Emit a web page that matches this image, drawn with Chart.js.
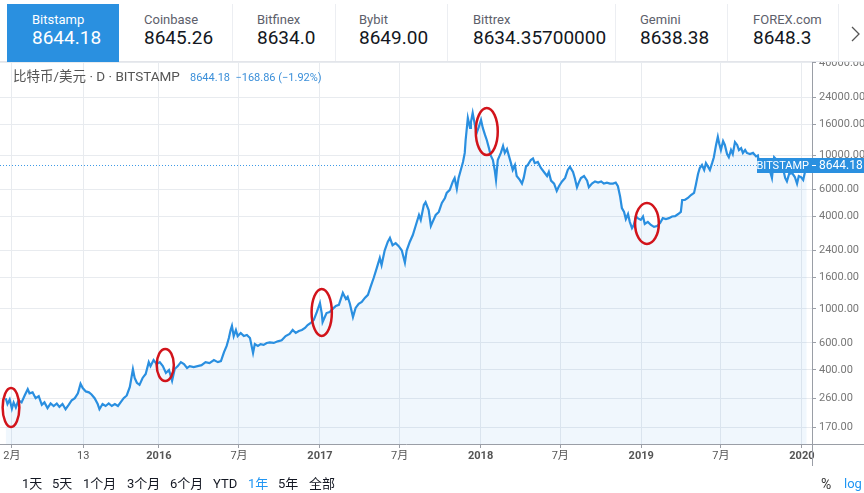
<!DOCTYPE html>
<html lang="zh-CN">
<head>
<meta charset="utf-8">
<title>比特币/美元 · D · BITSTAMP</title>
<script src="https://cdn.jsdelivr.net/npm/chart.js@4.4.1/dist/chart.umd.min.js"></script>
<style>
  html, body { margin: 0; padding: 0; background: #fff; }
  body { width: 864px; height: 493px; position: relative; overflow: hidden;
         font-family: Roboto, "Noto Sans CJK SC", sans-serif; color: #131722; }
  #chart { position: absolute; left: 0; top: 0; }
  .tabs { position: absolute; left: 0; top: 0; width: 864px; height: 61px; background: #fff;
          border-bottom: 1px solid #e3e5ea; z-index: 2; }
  .active { position: absolute; left: 7px; top: 4px; width: 112px; height: 58px; background: #2a90e0; }
  .sep { position: absolute; top: 4px; width: 1px; height: 57px; background: #eceef2; }
  .name, .val { position: absolute; line-height: 1; white-space: nowrap; }
  .name { top: 13px; font-size: 13px; color: #5d606b; }
  .val { top: 28px; font-size: 19px; color: #131722; }
  .on { color: #fff; }
  .title { position: absolute; left: 13px; top: 70px; font-size: 13.5px; line-height: 1; color: #555; z-index: 2; white-space: nowrap; }
  .quote { position: absolute; left: 190px; top: 72px; font-size: 11px; line-height: 1; color: #3b8fd9; z-index: 2; white-space: nowrap; }
  .range { position: absolute; top: 477px; font-size: 13px; line-height: 1; color: #131722; white-space: nowrap; }
  .blue { color: #2196f3; }
</style>
</head>
<body>
<canvas id="chart" width="864" height="493"></canvas>

<div class="tabs">
  <div class="active"></div>
  <span class="name on" style="left:32px">Bitstamp</span><span class="val on" style="left:32px">8644.18</span>
  <span class="name" style="left:144px">Coinbase</span><span class="val" style="left:144px">8645.26</span>
  <div class="sep" style="left:232px"></div>
  <span class="name" style="left:257px">Bitfinex</span><span class="val" style="left:257px">8634.0</span>
  <div class="sep" style="left:335px"></div>
  <span class="name" style="left:359px">Bybit</span><span class="val" style="left:359px">8649.00</span>
  <div class="sep" style="left:447px"></div>
  <span class="name" style="left:473px">Bittrex</span><span class="val" style="left:473px">8634.35700000</span>
  <div class="sep" style="left:615px"></div>
  <span class="name" style="left:640px">Gemini</span><span class="val" style="left:640px">8638.38</span>
  <div class="sep" style="left:727px"></div>
  <span class="name" style="left:753px">FOREX.com</span><span class="val" style="left:753px">8648.3</span>
  <div class="sep" style="left:838px"></div>
  <svg style="position:absolute;left:848px;top:24px" width="14" height="20">
    <polyline points="4,3 11,10 4,17" fill="none" stroke="#555" stroke-width="1.3"/>
  </svg>
</div>

<div class="title">比特币/美元 · D · BITSTAMP</div>
<div class="quote">8644.18&nbsp; −168.86 (−1.92%)</div>

<span class="range" style="left:22px">1天</span>
<span class="range" style="left:52px">5天</span>
<span class="range" style="left:83px">1个月</span>
<span class="range" style="left:127px">3个月</span>
<span class="range" style="left:170px">6个月</span>
<span class="range" style="left:213px">YTD</span>
<span class="range blue" style="left:248px">1年</span>
<span class="range" style="left:278px">5年</span>
<span class="range" style="left:309px">全部</span>
<span class="range" style="left:821px;font-size:14px;color:#333">%</span>
<span class="range blue" style="left:844px">log</span>

<script>
// daily BTC/USD closes on Bitstamp
const dates = [
    '2015-01-18', '2015-01-22', '2015-01-27', '2015-02-01', '2015-02-05', '2015-02-10', '2015-02-16', '2015-02-23',
    '2015-03-02', '2015-03-09', '2015-03-13', '2015-03-20', '2015-03-27', '2015-04-03', '2015-04-10', '2015-04-16',
    '2015-04-23', '2015-04-30', '2015-05-07', '2015-05-14', '2015-05-20', '2015-05-27', '2015-06-03', '2015-06-10',
    '2015-06-17', '2015-06-24', '2015-07-01', '2015-07-07', '2015-07-12', '2015-07-19', '2015-07-26', '2015-08-01',
    '2015-08-08', '2015-08-15', '2015-08-19', '2015-08-26', '2015-09-02', '2015-09-09', '2015-09-16', '2015-09-23',
    '2015-09-30', '2015-10-06', '2015-10-13', '2015-10-20', '2015-10-27', '2015-11-03', '2015-11-07', '2015-11-12',
    '2015-11-18', '2015-11-25', '2015-12-02', '2015-12-09', '2015-12-13', '2015-12-20', '2015-12-27',
    '2016-01-03', '2016-01-10', '2016-01-17', '2016-01-24', '2016-01-31', '2016-02-06', '2016-02-13', '2016-02-20',
    '2016-02-27', '2016-03-05', '2016-03-11', '2016-03-20', '2016-03-29', '2016-04-07', '2016-04-16', '2016-04-25',
    '2016-05-05', '2016-05-14', '2016-05-21', '2016-05-28', '2016-06-03', '2016-06-08', '2016-06-12', '2016-06-15',
    '2016-06-19', '2016-06-24', '2016-06-28', '2016-07-05', '2016-07-12', '2016-07-19', '2016-07-26', '2016-08-02',
    '2016-08-06', '2016-08-13', '2016-08-19', '2016-08-26', '2016-09-02', '2016-09-09', '2016-09-18', '2016-09-27',
    '2016-10-06', '2016-10-15', '2016-10-24', '2016-10-31', '2016-11-07', '2016-11-14', '2016-11-21', '2016-11-28',
    '2016-12-04', '2016-12-11', '2016-12-18', '2016-12-25',
    '2017-01-01', '2017-01-05', '2017-01-07', '2017-01-12', '2017-01-16', '2017-01-23', '2017-01-30', '2017-02-06',
    '2017-02-13', '2017-02-22', '2017-03-01', '2017-03-05', '2017-03-10', '2017-03-17', '2017-03-23', '2017-03-30',
    '2017-04-06', '2017-04-13', '2017-04-20', '2017-04-26', '2017-05-03', '2017-05-10', '2017-05-17', '2017-05-21',
    '2017-05-28', '2017-06-04', '2017-06-09', '2017-06-15', '2017-06-22', '2017-06-29', '2017-07-06', '2017-07-13',
    '2017-07-17', '2017-07-24', '2017-07-31', '2017-08-07', '2017-08-14', '2017-08-18', '2017-08-25', '2017-08-29',
    '2017-09-05', '2017-09-10', '2017-09-14', '2017-09-21', '2017-09-28', '2017-10-05', '2017-10-12', '2017-10-16',
    '2017-10-23', '2017-10-30', '2017-11-03', '2017-11-08', '2017-11-12', '2017-11-17', '2017-11-22', '2017-11-26',
    '2017-11-28', '2017-12-03', '2017-12-08', '2017-12-10', '2017-12-14', '2017-12-19', '2017-12-23', '2017-12-28',
    '2018-01-02', '2018-01-06', '2018-01-11', '2018-01-15', '2018-01-20', '2018-01-24', '2018-01-29', '2018-02-02',
    '2018-02-05', '2018-02-09', '2018-02-16', '2018-02-21', '2018-02-25', '2018-03-02', '2018-03-06', '2018-03-11',
    '2018-03-15', '2018-03-20', '2018-03-24', '2018-03-31', '2018-04-05', '2018-04-09', '2018-04-14', '2018-04-18',
    '2018-04-25', '2018-04-30', '2018-05-04', '2018-05-11', '2018-05-18', '2018-05-25', '2018-06-01', '2018-06-05',
    '2018-06-10', '2018-06-17', '2018-06-23', '2018-06-28', '2018-07-05', '2018-07-12', '2018-07-18', '2018-07-23',
    '2018-07-30', '2018-08-03', '2018-08-08', '2018-08-12', '2018-08-17', '2018-08-24', '2018-08-31', '2018-09-04',
    '2018-09-11', '2018-09-18', '2018-09-25', '2018-10-02', '2018-10-08', '2018-10-15', '2018-10-22', '2018-10-29',
    '2018-11-04', '2018-11-09', '2018-11-14', '2018-11-18', '2018-11-23', '2018-11-27', '2018-12-02', '2018-12-06',
    '2018-12-11', '2018-12-15', '2018-12-20', '2018-12-24', '2018-12-31',
    '2019-01-05', '2019-01-09', '2019-01-16', '2019-01-23', '2019-01-30', '2019-02-06', '2019-02-13', '2019-02-19',
    '2019-02-26', '2019-03-05', '2019-03-12', '2019-03-19', '2019-03-26', '2019-04-01', '2019-04-04', '2019-04-10',
    '2019-04-17', '2019-04-24', '2019-05-01', '2019-05-05', '2019-05-10', '2019-05-14', '2019-05-19', '2019-05-24',
    '2019-05-28', '2019-06-02', '2019-06-06', '2019-06-11', '2019-06-15', '2019-06-20', '2019-06-24', '2019-06-27',
    '2019-07-01', '2019-07-06', '2019-07-10', '2019-07-15', '2019-07-19', '2019-07-24', '2019-07-28', '2019-08-02',
    '2019-08-07', '2019-08-11', '2019-08-16', '2019-08-20', '2019-08-25', '2019-08-29', '2019-09-05', '2019-09-12',
    '2019-09-19', '2019-09-23', '2019-09-28', '2019-10-05', '2019-10-12', '2019-10-18', '2019-10-25', '2019-10-30',
    '2019-11-05', '2019-11-12', '2019-11-19', '2019-11-24', '2019-11-28', '2019-12-03', '2019-12-10', '2019-12-16',
    '2019-12-21', '2019-12-25', '2019-12-30', '2020-01-04', '2020-01-08', '2020-01-12'
];
const closes = [
    262, 240, 257, 224, 246, 228, 254, 246,
    273, 300, 282, 286, 262, 270, 237, 246,
    226, 242, 233, 242, 230, 240, 222, 237,
    254, 262, 282, 325, 305, 290, 286, 277,
    262, 240, 222, 240, 233, 242, 233, 240,
    233, 246, 262, 273, 310, 405, 355, 330,
    320, 355, 377, 450, 424, 464, 437,
    450, 424, 383, 400, 340, 406, 424, 450,
    437, 412, 424, 418, 424, 430, 450, 443,
    464, 450, 457, 523, 574, 646, 729, 775,
    665, 729, 665, 697, 665, 676, 646, 516,
    590, 574, 590, 583, 600, 605, 600, 615,
    624, 665, 687, 729, 697, 718, 729, 752,
    785, 810, 847, 955,
    1092, 940, 820, 885, 940, 955, 1000, 1045,
    1062, 1270, 1160, 1200, 1080, 885, 1015, 1080,
    1110, 1180, 1235, 1390, 1590, 1845, 2148, 1930,
    2400, 2730, 2900, 2600, 2680, 2560, 2400, 2000,
    2400, 2730, 3030, 3520, 4090, 3800, 4750, 4950,
    4400, 3470, 3690, 4090, 4280, 4900, 5280, 5700,
    5960, 6770, 7130, 6060, 7130, 8040, 9060, 10380,
    12600, 17540, 15100, 16500, 18900, 15800, 14000, 15330,
    17000, 15100, 13600, 12600, 11150, 10000, 9330, 8040,
    6920, 9330, 10380, 11500, 10380, 11000, 10000, 8900,
    8040, 8660, 7340, 6920, 6550, 7130, 8420, 8660,
    9330, 9560, 8900, 9060, 8280, 7800, 7340, 7800,
    6850, 6550, 5870, 6300, 6770, 7130, 8040, 8420,
    7800, 7130, 6200, 6650, 7130, 7340, 6850, 6200,
    6550, 6770, 6650, 6770, 6550, 6650, 6550, 6550,
    6650, 6300, 5400, 4540, 4280, 3850, 4150, 3690,
    3360, 3520, 4020, 3900, 3800,
    4000, 3580, 3690, 3520, 3420, 3470, 3630, 3900,
    3850, 3900, 4000, 4020, 4150, 4280, 5120, 5120,
    5280, 5520, 5700, 6420, 7570, 8280, 8660, 8040,
    8900, 8420, 8040, 8900, 9720, 11700, 13200, 12000,
    10840, 12400, 11700, 10200, 9720, 10840, 10200, 12200,
    11700, 10840, 11150, 10380, 10840, 10380, 10200, 10380,
    9850, 10000, 8040, 8280, 7900, 8420, 7130, 9720,
    9330, 8900, 8280, 7130, 6770, 7570, 7670, 7230,
    6550, 7340, 7230, 6920, 7800, 8644.18
];
const lastPrice = 8644.18;

const xTickDates = ['2015-02-01', '2015-07-13', '2016-01-01', '2016-07-01', '2017-01-01', '2017-07-01',
    '2018-01-01', '2018-07-01', '2019-01-01', '2019-07-01', '2020-01-01'];
const xTickLabels = ['2月', '13', '2016', '7月', '2017', '7月', '2018', '7月', '2019', '7月', '2020'];
const yTickValues = [170, 260, 400, 600, 1000, 1600, 2400, 4000, 6000, 10000, 16000, 24000, 40000];

// red rings drawn on the chart: date span and price span of each
const ringFrom = ['2015-01-11', '2015-12-27', '2016-12-13', '2017-12-21', '2018-12-18'];
const ringTo = ['2015-02-18', '2016-02-04', '2017-01-28', '2018-02-09', '2019-02-10'];
const ringHigh = [305, 548, 1349, 20370, 4900];
const ringLow = [170, 339, 666, 10060, 2650];

const FONT = 'Roboto, "Noto Sans CJK SC", sans-serif';
const toTime = d => Date.parse(d + 'T00:00:00Z');

const overlays = {
    id: 'overlays',
    beforeDatasetsDraw(chart) {
        const { ctx, chartArea, scales: { y } } = chart;
        const py = Math.round(y.getPixelForValue(lastPrice)) + 0.5;
        ctx.save();
        ctx.strokeStyle = '#3d9ae6';
        ctx.lineWidth = 1;
        ctx.setLineDash([1, 2]);
        ctx.beginPath();
        ctx.moveTo(chartArea.left, py);
        ctx.lineTo(chartArea.right, py);
        ctx.stroke();
        ctx.restore();
    },
    afterDraw(chart) {
        const { ctx, chartArea, scales: { x, y } } = chart;
        ctx.save();
        // axis lines run on past the plot
        ctx.strokeStyle = '#9a9ea6';
        ctx.lineWidth = 1;
        ctx.beginPath();
        ctx.moveTo(chartArea.right + 0.5, chartArea.bottom);
        ctx.lineTo(chartArea.right + 0.5, x.bottom);
        ctx.moveTo(chartArea.right, chartArea.bottom + 0.5);
        ctx.lineTo(chart.width, chartArea.bottom + 0.5);
        ctx.stroke();

        ctx.strokeStyle = '#d2141b';
        ctx.lineWidth = 2.5;
        ringFrom.forEach((d, i) => {
            const x1 = x.getPixelForValue(toTime(d));
            const x2 = x.getPixelForValue(toTime(ringTo[i]));
            const y1 = y.getPixelForValue(ringHigh[i]);
            const y2 = y.getPixelForValue(ringLow[i]);
            ctx.beginPath();
            ctx.ellipse((x1 + x2) / 2, (y1 + y2) / 2, (x2 - x1) / 2, (y2 - y1) / 2, 0, 0, Math.PI * 2);
            ctx.stroke();
        });

        // last price tag
        const py = Math.round(y.getPixelForValue(lastPrice));
        ctx.fillStyle = '#2a90e0';
        ctx.fillRect(chartArea.right - 55, py - 7, chart.width - chartArea.right + 55, 15);
        ctx.strokeStyle = '#fff';
        ctx.lineWidth = 1;
        ctx.beginPath();
        ctx.moveTo(chartArea.right, py + 0.5);
        ctx.lineTo(chartArea.right + 4, py + 0.5);
        ctx.stroke();
        ctx.fillStyle = '#fff';
        ctx.textBaseline = 'middle';
        ctx.font = '11px ' + FONT;
        ctx.textAlign = 'right';
        ctx.fillText('BITSTAMP', chartArea.right - 3, py + 1);
        ctx.textAlign = 'left';
        ctx.font = '12px ' + FONT;
        ctx.fillText(lastPrice.toFixed(2), chartArea.right + 7, py + 1);
        ctx.restore();
    }
};

const points = dates.map((d, i) => ({ x: toTime(d), y: closes[i] }));

new Chart(document.getElementById('chart'), {
    type: 'line',
    data: {
        datasets: [{
            data: points,
            borderColor: '#2a8fe0',
            borderWidth: 2.2,
            backgroundColor: 'rgba(42,144,224,0.07)',
            fill: 'start',
            pointRadius: 0,
            tension: 0
        }]
    },
    options: {
        responsive: false,
        animation: false,
        devicePixelRatio: 1,
        layout: { padding: { top: 61, left: 0, right: 0, bottom: 27 } },
        plugins: { legend: { display: false }, tooltip: { enabled: false } },
        scales: {
            x: {
                type: 'linear',
                bounds: 'data',
                min: toTime('2015-01-05'),
                max: toTime('2020-01-24'),
                afterBuildTicks: scale => { scale.ticks = xTickDates.map(d => ({ value: toTime(d) })); },
                afterFit: scale => { scale.height = 22; },
                grid: { color: '#e8ebef', tickLength: 4, tickColor: '#9a9ea6' },
                border: { color: '#9a9ea6' },
                ticks: {
                    autoSkip: false,
                    maxRotation: 0,
                    padding: 2,
                    color: '#555',
                    font: ctx => ({ family: FONT, size: 11, weight: /^\d{4}$/.test(xTickLabels[ctx.index]) ? 'bold' : 'normal' }),
                    callback: (v, i) => xTickLabels[i]
                }
            },
            y: {
                type: 'logarithmic',
                position: 'right',
                bounds: 'data',
                min: 131.8,
                max: 41200,
                afterBuildTicks: scale => { scale.ticks = yTickValues.map(v => ({ value: v })); },
                afterFit: scale => { scale.width = 52; },
                grid: { color: '#e8ebef', tickLength: 4, tickColor: '#9a9ea6' },
                border: { color: '#9a9ea6' },
                ticks: {
                    autoSkip: false,
                    padding: 3,
                    color: '#777',
                    font: { family: FONT, size: 11 },
                    callback: v => Number(v).toFixed(2)
                }
            }
        }
    },
    plugins: [overlays]
});
</script>
</body>
</html>
